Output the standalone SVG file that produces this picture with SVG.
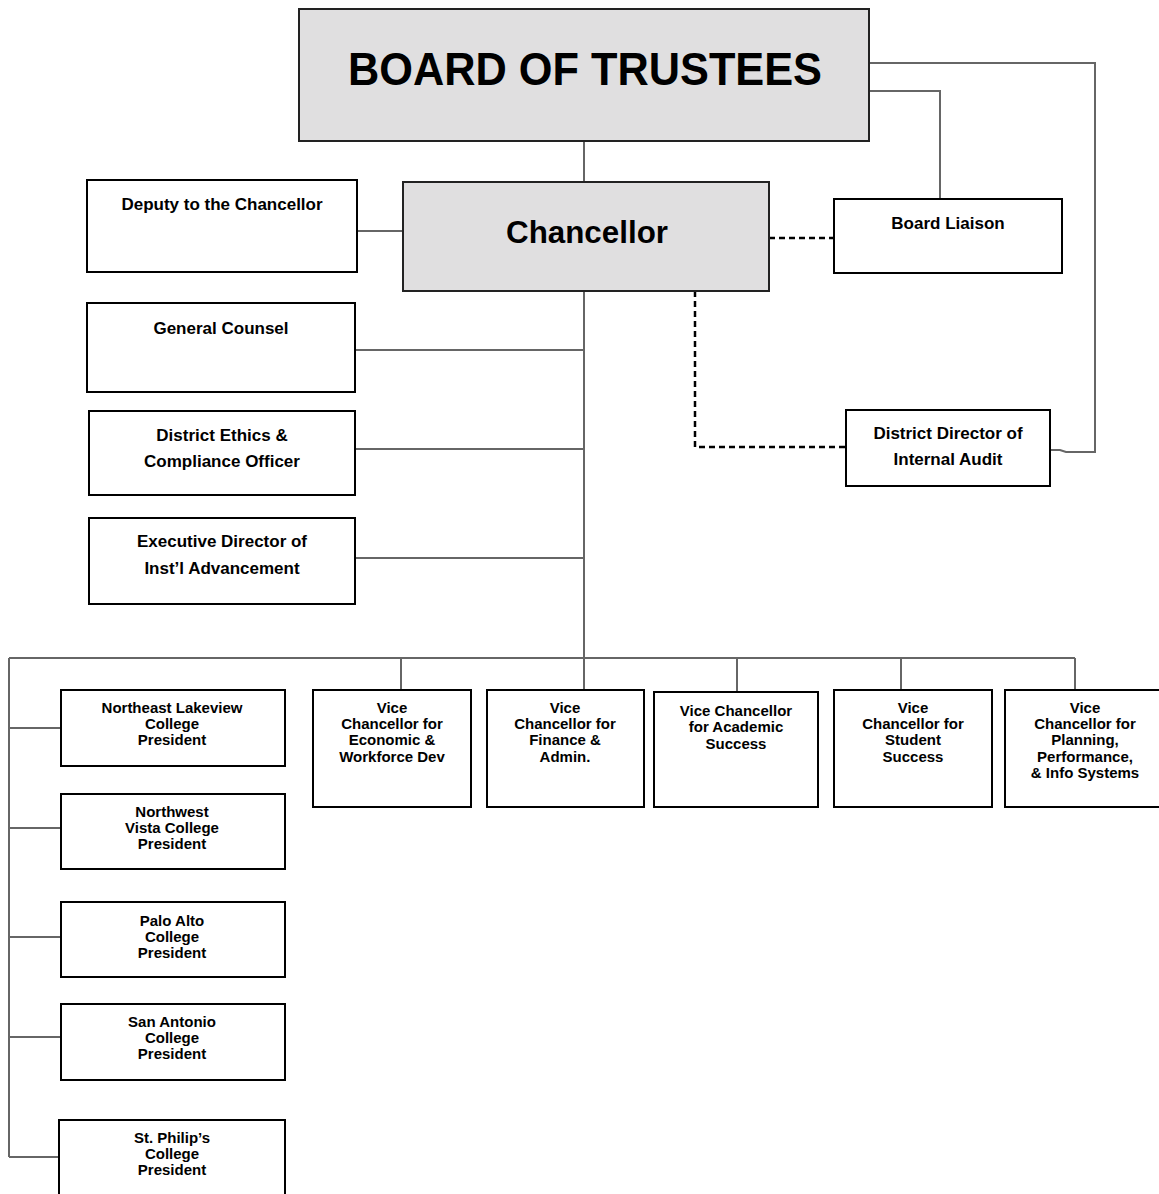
<svg xmlns="http://www.w3.org/2000/svg" width="1159" height="1194" viewBox="0 0 1159 1194">
<style>
.box{fill:#fff;stroke:#000;stroke-width:2}
.gbox{fill:#e0dfe0;stroke:#222;stroke-width:2}
.ln{fill:none;stroke:#666;stroke-width:2}
.dash{fill:none;stroke:#000;stroke-width:2.5;stroke-dasharray:6 4}
text{font-family:"Liberation Sans",Arial,sans-serif;font-weight:bold;fill:#000;text-anchor:middle}
.m{font-size:17px}
.s{font-size:15px}
</style>
<rect width="1159" height="1194" fill="#fff"/>
<g id="connectors">
<path class="ln" d="M584 141 V182"/>
<path class="ln" d="M357 231 H403"/>
<path class="ln" d="M869 91 H940 V199"/>
<path class="ln" d="M869 63 H1095 V452 H1066 L1060 450 H1050"/>
<path class="ln" d="M584 291 V658"/>
<path class="ln" d="M355 350 H584"/>
<path class="ln" d="M355 449 H584"/>
<path class="ln" d="M355 558 H584"/>
<path class="ln" d="M9 658 H1075"/>
<path class="ln" d="M401 658 V690 M584 658 V690 M737 658 V692 M901 658 V690 M1075 658 V690"/>
<path class="ln" d="M9 658 V1157"/>
<path class="ln" d="M9 728 H61 M9 828 H61 M9 937 H61 M9 1037 H61 M9 1157 H59"/>
<path class="dash" d="M769 238 H834"/>
<path class="dash" d="M695 291 V447 H846"/>
</g>
<g id="board">
<rect class="gbox" x="299" y="9" width="570" height="132"/>
<text x="585" y="85" font-size="46" textLength="474" lengthAdjust="spacingAndGlyphs">BOARD OF TRUSTEES</text>
</g>
<g id="chancellor">
<rect class="gbox" x="403" y="182" width="366" height="109"/>
<text x="587" y="243" font-size="31" textLength="162" lengthAdjust="spacingAndGlyphs">Chancellor</text>
</g>
<g id="deputy">
<rect class="box" x="87" y="180" width="270" height="92"/>
<text class="m" x="222" y="210">Deputy to the Chancellor</text>
</g>
<g id="liaison">
<rect class="box" x="834" y="199" width="228" height="74"/>
<text class="m" x="948" y="229">Board Liaison</text>
</g>
<g id="counsel">
<rect class="box" x="87" y="303" width="268" height="89"/>
<text class="m" x="221" y="334">General Counsel</text>
</g>
<g id="ethics">
<rect class="box" x="89" y="411" width="266" height="84"/>
<text class="m" x="222" y="441">District Ethics &amp;</text>
<text class="m" x="222" y="467">Compliance Officer</text>
</g>
<g id="advancement">
<rect class="box" x="89" y="518" width="266" height="86"/>
<text class="m" x="222" y="547">Executive Director of</text>
<text class="m" x="222" y="574">Inst’l Advancement</text>
</g>
<g id="audit">
<rect class="box" x="846" y="410" width="204" height="76"/>
<text class="m" x="948" y="439">District Director of</text>
<text class="m" x="948" y="465">Internal Audit</text>
</g>
<g id="vc-econ">
<rect class="box" x="313" y="690" width="158" height="117"/>
<text class="s" x="392" y="713">Vice</text>
<text class="s" x="392" y="729">Chancellor for</text>
<text class="s" x="392" y="745">Economic &amp;</text>
<text class="s" x="392" y="762">Workforce Dev</text>
</g>
<g id="vc-finance">
<rect class="box" x="487" y="690" width="157" height="117"/>
<text class="s" x="565" y="713">Vice</text>
<text class="s" x="565" y="729">Chancellor for</text>
<text class="s" x="565" y="745">Finance &amp;</text>
<text class="s" x="565" y="762">Admin.</text>
</g>
<g id="vc-academic">
<rect class="box" x="654" y="692" width="164" height="115"/>
<text class="s" x="736" y="716">Vice Chancellor</text>
<text class="s" x="736" y="732">for Academic</text>
<text class="s" x="736" y="749">Success</text>
</g>
<g id="vc-student">
<rect class="box" x="834" y="690" width="158" height="117"/>
<text class="s" x="913" y="713">Vice</text>
<text class="s" x="913" y="729">Chancellor for</text>
<text class="s" x="913" y="745">Student</text>
<text class="s" x="913" y="762">Success</text>
</g>
<g id="vc-planning">
<rect class="box" x="1005" y="690" width="160" height="117"/>
<text class="s" x="1085" y="713">Vice</text>
<text class="s" x="1085" y="729">Chancellor for</text>
<text class="s" x="1085" y="745">Planning,</text>
<text class="s" x="1085" y="762">Performance,</text>
<text class="s" x="1085" y="778">&amp; Info Systems</text>
</g>
<g id="nlc">
<rect class="box" x="61" y="690" width="224" height="76"/>
<text class="s" x="172" y="713">Northeast Lakeview</text>
<text class="s" x="172" y="729">College</text>
<text class="s" x="172" y="745">President</text>
</g>
<g id="nvc">
<rect class="box" x="61" y="794" width="224" height="75"/>
<text class="s" x="172" y="817">Northwest</text>
<text class="s" x="172" y="833">Vista College</text>
<text class="s" x="172" y="849">President</text>
</g>
<g id="pac">
<rect class="box" x="61" y="902" width="224" height="75"/>
<text class="s" x="172" y="926">Palo Alto</text>
<text class="s" x="172" y="942">College</text>
<text class="s" x="172" y="958">President</text>
</g>
<g id="sac">
<rect class="box" x="61" y="1004" width="224" height="76"/>
<text class="s" x="172" y="1027">San Antonio</text>
<text class="s" x="172" y="1043">College</text>
<text class="s" x="172" y="1059">President</text>
</g>
<g id="spc">
<rect class="box" x="59" y="1120" width="226" height="80"/>
<text class="s" x="172" y="1143">St. Philip’s</text>
<text class="s" x="172" y="1159">College</text>
<text class="s" x="172" y="1175">President</text>
</g>
</svg>
